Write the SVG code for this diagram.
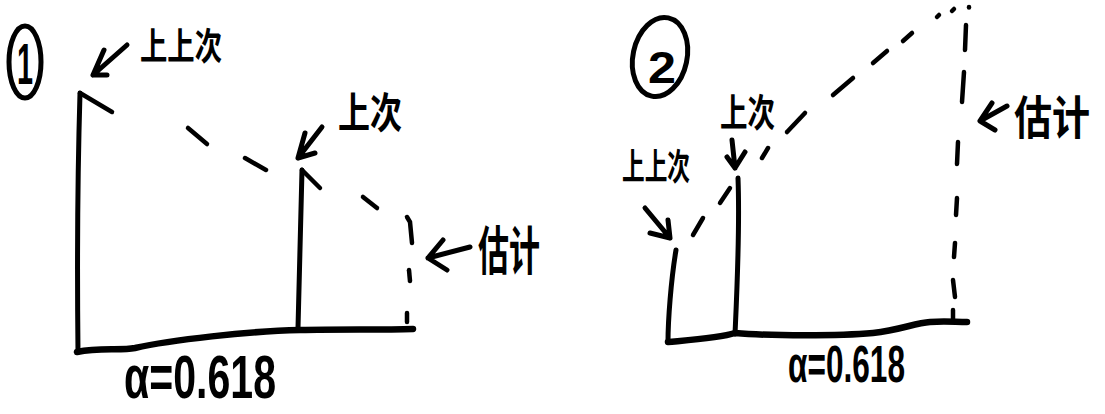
<svg xmlns="http://www.w3.org/2000/svg" width="1105" height="414" viewBox="0 0 1105 414">
  <style>
    .ink { fill: none; stroke: #000; stroke-width: 5; stroke-linecap: round; stroke-linejoin: round; }
    .base { fill: none; stroke: #000; stroke-width: 6.5; stroke-linecap: round; stroke-linejoin: round; }
    .dash { fill: none; stroke: #000; stroke-width: 4.5; stroke-linecap: round; }
    .cjk { font-family: "Noto Sans CJK SC", "Noto Sans", sans-serif; font-weight: 700; fill: #000; }
    .num { font-family: "Liberation Sans", "DejaVu Sans", sans-serif; font-weight: 700; fill: #000; }
  </style>
  <rect width="1105" height="414" fill="#fff"/>

  <!-- Panel 1 -->
  <g id="panel1-label">
    <ellipse class="ink" cx="25" cy="62" rx="16" ry="36"/>
    <text class="num" x="17" y="84" font-size="58" textLength="16" lengthAdjust="spacingAndGlyphs">1</text>
  </g>
  <g id="panel1-bars">
    <path class="ink" d="M80,93 C78,160 77,260 78,352"/>
    <path class="ink" d="M302,170 C300,230 299,290 298,328"/>
    <path class="base" d="M77,352 C100,347 120,351 135,348 C170,340 250,331 300,330 C340,329 380,330 413,329"/>
  </g>
  <g id="panel1-connectors">
    <path class="dash" d="M80,93 L112,112"/>
    <path class="dash" d="M188,128 L207,144"/>
    <path class="dash" d="M245,158 L266,170"/>
    <path class="dash" d="M302,170 L320,188"/>
    <path class="dash" d="M363,197 L377,208"/>
    <path class="dash" d="M407,217 L410,222 L412,243"/>
    <path class="dash" d="M409,270 L410,281"/>
    <path class="dash" d="M407,313 L407,322"/>
    <!-- pointer arrows -->
    <path class="ink" d="M127,45 L93,75 M104,50 L93,75 L107,75"/>
    <path class="ink" d="M322,127 L298,158 M305,133 L298,158 L315,153"/>
    <path class="ink" d="M470,247 L428,258 M443,240 L428,258 L447,270"/>
  </g>
  <g id="panel1-texts">
    <text class="cjk" x="140" y="60" font-size="37" textLength="82" lengthAdjust="spacingAndGlyphs">上上次</text>
    <text class="cjk" x="338" y="128" font-size="42" textLength="64" lengthAdjust="spacingAndGlyphs">上次</text>
    <text class="cjk" x="478" y="270" font-size="52" textLength="62" lengthAdjust="spacingAndGlyphs">估计</text>
    <text class="num" x="124" y="398" font-size="62" textLength="152" lengthAdjust="spacingAndGlyphs">α=0.618</text>
  </g>

  <!-- Panel 2 -->
  <g id="panel2-label">
    <ellipse class="ink" cx="660" cy="57" rx="27" ry="40" transform="rotate(12 660 57)"/>
    <text class="num" x="648" y="83" font-size="44" textLength="28" lengthAdjust="spacingAndGlyphs">2</text>
  </g>
  <g id="panel2-bars">
    <path class="ink" d="M676,250 C671,280 668,320 668,342"/>
    <path class="ink" d="M738,178 C740,230 737,290 735,334"/>
    <path class="base" d="M668,342 C690,340 720,338 735,333 C770,336 840,336 873,333 C900,330 915,323 930,322 C945,321 955,322 967,322"/>
  </g>
  <g id="panel2-connectors">
    <path class="dash" d="M693,235 L703,218"/>
    <path class="dash" d="M720,203 L730,188"/>
    <path class="dash" d="M762,158 L768,148"/>
    <path class="dash" d="M787,132 L805,113"/>
    <path class="dash" d="M833,95 L853,78"/>
    <path class="dash" d="M873,63 L887,51"/>
    <path class="dash" d="M903,41 L912,33"/>
    <path class="dash" d="M937,17 L939,15"/>
    <path class="dash" d="M952,11 L954,9"/>
    <path class="dash" d="M969,7 L969,7.5"/>
    <path class="dash" d="M966,25 L965,50"/>
    <path class="dash" d="M964,72 L962,102"/>
    <path class="dash" d="M958,142 L957,164"/>
    <path class="dash" d="M957,198 L956,215"/>
    <path class="dash" d="M955,243 L954,257"/>
    <path class="dash" d="M953,280 L955,297"/>
    <path class="dash" d="M953,310 L953,321"/>
    <!-- pointer arrows -->
    <path class="ink" d="M645,208 L670,238 M668,220 L670,238 L650,233"/>
    <path class="ink" d="M732,140 L735,168 M727,157 L735,168 L745,152"/>
    <path class="ink" d="M1007,106 L980,121 M992,103 L980,121 L995,130"/>
  </g>
  <g id="panel2-texts">
    <text class="cjk" x="622" y="180" font-size="36" textLength="68" lengthAdjust="spacingAndGlyphs">上上次</text>
    <text class="cjk" x="720" y="126" font-size="38" textLength="55" lengthAdjust="spacingAndGlyphs">上次</text>
    <text class="cjk" x="1014" y="134" font-size="46" textLength="76" lengthAdjust="spacingAndGlyphs">估计</text>
    <text class="num" x="788" y="382" font-size="52" textLength="117" lengthAdjust="spacingAndGlyphs">α=0.618</text>
  </g>
</svg>
